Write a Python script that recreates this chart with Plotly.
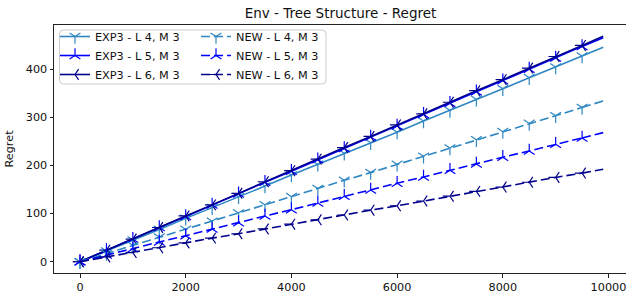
import plotly.graph_objects as go

steps = [0, 500, 1000, 1500, 2000, 2500, 3000, 3500, 4000, 4500, 5000,
         5500, 6000, 6500, 7000, 7500, 8000, 8500, 9000, 9500, 9900]

exp3_l4 = [0, 22, 45, 67, 90, 112, 135, 157, 180, 202, 225, 247, 269, 292, 314, 337, 359, 382, 404, 427, 445]
exp3_l5 = [0, 24, 47, 71, 94, 118, 141, 165, 188, 212, 235, 259, 282, 306, 329, 353, 376, 400, 423, 447, 465]
exp3_l6 = [0, 24, 47, 71, 95, 118, 142, 166, 189, 213, 237, 260, 284, 307, 331, 355, 378, 402, 426, 449, 468]
new_l4 = [0, 17, 34, 51, 67, 84, 101, 118, 135, 152, 169, 185, 202, 219, 236, 253, 270, 287, 303, 320, 334]
new_l5 = [0, 14, 27, 41, 54, 68, 81, 95, 108, 122, 136, 149, 163, 176, 190, 203, 217, 230, 244, 257, 268]
new_l6 = [0, 10, 19, 29, 39, 49, 58, 68, 78, 87, 97, 107, 116, 126, 136, 146, 155, 165, 175, 184, 192]

x_ticks = [0, 2000, 4000, 6000, 8000, 10000]
y_ticks = [0, 100, 200, 300, 400]

C_L4 = "#2e87c2"
C_L5 = "#0000ff"
C_L6 = "#00008b"

series = [
    ("EXP3 - L 4, M 3", exp3_l4, C_L4, "y-down-open", "solid", "legend"),
    ("EXP3 - L 5, M 3", exp3_l5, C_L5, "y-up-open", "solid", "legend"),
    ("EXP3 - L 6, M 3", exp3_l6, C_L6, "y-left-open", "solid", "legend"),
    ("NEW - L 4, M 3", new_l4, C_L4, "y-down-open", "9px,4px", "legend2"),
    ("NEW - L 5, M 3", new_l5, C_L5, "y-up-open", "9px,4px", "legend2"),
    ("NEW - L 6, M 3", new_l6, C_L6, "y-left-open", "9px,4px", "legend2"),
]

fig = go.Figure()
for name, vals, col, sym, dash, leg in series:
    fig.add_trace(go.Scatter(
        x=steps[-2:], y=vals[-2:], mode="lines", showlegend=False,
        line=dict(color=col, width=1.6, dash=dash), hoverinfo="skip"))
    fig.add_trace(go.Scatter(
        x=steps[:-1], y=vals[:-1], mode="lines+markers", name=name, legend=leg,
        line=dict(color=col, width=1.6, dash=dash),
        marker=dict(symbol=sym, size=9, color=col, line=dict(color=col, width=1.2))))

W, H = 626, 296
L, R, T, B = 54, 0, 25, 23
pw, ph = W - L - R, H - T - B

def px(xp):
    return (xp - L) / pw

def py(yp):
    return 1 - (yp - T) / ph

x0, x1, y0, y1 = px(59.5), px(326), py(30), py(84)
rx, ry = 4 / pw, 4 / ph
path = (f"M {x0+rx},{y0} L {x1-rx},{y0} Q {x1},{y0} {x1},{y0-ry} "
        f"L {x1},{y1+ry} Q {x1},{y1} {x1-rx},{y1} L {x0+rx},{y1} "
        f"Q {x0},{y1} {x0},{y1+ry} L {x0},{y0-ry} Q {x0},{y0} {x0+rx},{y0} Z")

font = "DejaVu Sans, sans-serif"
FS = 11.25
leg_common = dict(bgcolor="rgba(0,0,0,0)", borderwidth=0, font=dict(size=FS, family=font, color="#111"),
                  itemwidth=30, tracegroupgap=0, xanchor="left", yanchor="top")

fig.update_layout(
    width=W, height=H,
    margin=dict(l=L, r=R, t=T, b=B, pad=0, autoexpand=False),
    paper_bgcolor="white", plot_bgcolor="white",
    font=dict(family=font, size=FS, color="#111"),
    title=dict(text="Env - Tree Structure - Regret", x=340.5 / W, xanchor="center",
               y=1 - 13 / H, yanchor="middle", font=dict(size=13.5, family=font, color="#111")),
    xaxis=dict(range=[-492, 10331], tickvals=x_ticks, ticktext=[str(v) for v in x_ticks],
               automargin=False, ticklabeloverflow="allow",
               showgrid=False, zeroline=False, showline=True, linecolor="#222", linewidth=1,
               mirror=True, ticks="outside", ticklen=3.5, tickwidth=0.8, tickcolor="#222",
               tickfont=dict(size=FS, family=font, color="#111")),
    yaxis=dict(range=[-23.4, 491.4], tickvals=y_ticks, ticktext=[str(v) for v in y_ticks],
               automargin=False, ticklabeloverflow="allow",
               showgrid=False, zeroline=False, showline=True, linecolor="#222", linewidth=1,
               mirror=False, ticks="outside", ticklen=3.5, tickwidth=0.8, tickcolor="#222",
               tickfont=dict(size=FS, family=font, color="#111"),
               title=dict(text="Regret", standoff=9, font=dict(size=FS, family=font, color="#111"))),
    legend=dict(x=px(55), y=py(22), **leg_common),
    legend2=dict(x=px(196), y=py(22), **leg_common),
    shapes=[dict(type="path", path=path, xref="paper", yref="paper",
                 fillcolor="rgba(255,255,255,0.8)", line=dict(color="#cccccc", width=1),
                 layer="above")],
    showlegend=True,
)

fig.write_html("out.html", config={"displayModeBar": False},
               post_script="document.body.style.margin='0px';document.body.style.overflow='hidden';")
